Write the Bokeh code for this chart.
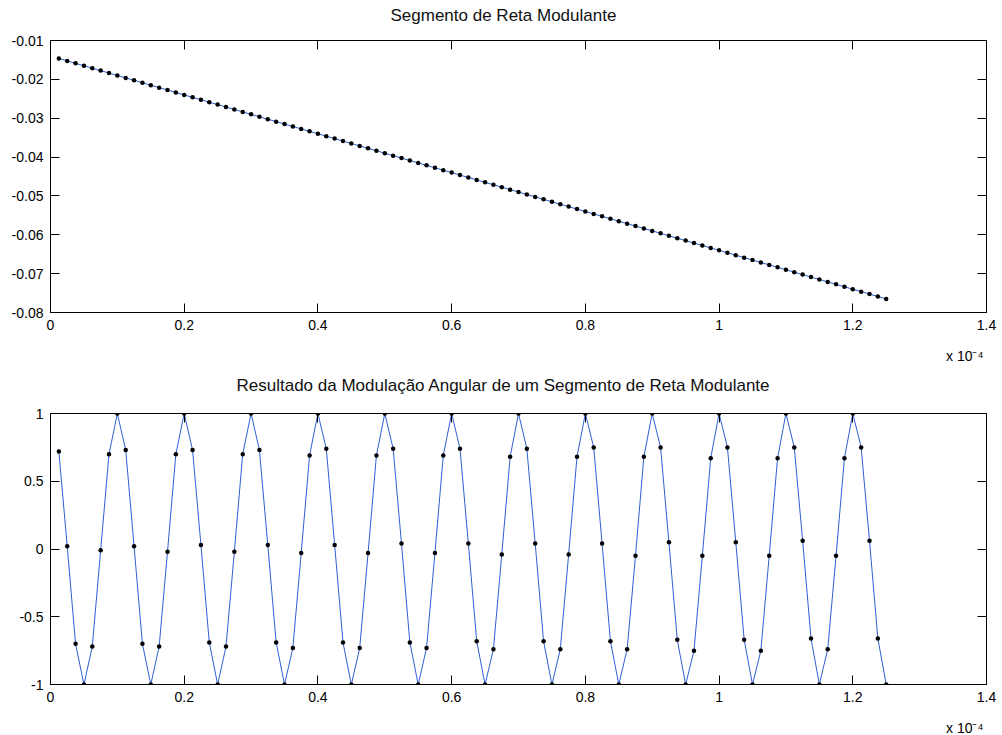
from bokeh.plotting import figure
from bokeh.layouts import column
from bokeh.models import (Range1d, FixedTicker, LinearAxis, CustomJSTickFormatter,
                          Title, CustomLabelingPolicy)
from bokeh.embed import file_html
from bokeh.resources import INLINE

# sample times, in units of 1e-4 s
t_e4 = [
    0.0125, 0.025, 0.0375, 0.05, 0.0625, 0.075, 0.0875, 0.1,
    0.1125, 0.125, 0.1375, 0.15, 0.1625, 0.175, 0.1875, 0.2,
    0.2125, 0.225, 0.2375, 0.25, 0.2625, 0.275, 0.2875, 0.3,
    0.3125, 0.325, 0.3375, 0.35, 0.3625, 0.375, 0.3875, 0.4,
    0.4125, 0.425, 0.4375, 0.45, 0.4625, 0.475, 0.4875, 0.5,
    0.5125, 0.525, 0.5375, 0.55, 0.5625, 0.575, 0.5875, 0.6,
    0.6125, 0.625, 0.6375, 0.65, 0.6625, 0.675, 0.6875, 0.7,
    0.7125, 0.725, 0.7375, 0.75, 0.7625, 0.775, 0.7875, 0.8,
    0.8125, 0.825, 0.8375, 0.85, 0.8625, 0.875, 0.8875, 0.9,
    0.9125, 0.925, 0.9375, 0.95, 0.9625, 0.975, 0.9875, 1.0,
    1.0125, 1.025, 1.0375, 1.05, 1.0625, 1.075, 1.0875, 1.1,
    1.1125, 1.125, 1.1375, 1.15, 1.1625, 1.175, 1.1875, 1.2,
    1.2125, 1.225, 1.2375, 1.25,
]

# modulating straight segment
segmento = [
    -0.01463, -0.01525, -0.01588, -0.0165, -0.01713, -0.01775, -0.01838, -0.019,
    -0.01963, -0.02025, -0.02088, -0.0215, -0.02213, -0.02275, -0.02338, -0.024,
    -0.02463, -0.02525, -0.02588, -0.0265, -0.02713, -0.02775, -0.02838, -0.029,
    -0.02963, -0.03025, -0.03088, -0.0315, -0.03213, -0.03275, -0.03338, -0.034,
    -0.03463, -0.03525, -0.03588, -0.0365, -0.03713, -0.03775, -0.03838, -0.039,
    -0.03963, -0.04025, -0.04088, -0.0415, -0.04213, -0.04275, -0.04338, -0.044,
    -0.04463, -0.04525, -0.04588, -0.0465, -0.04713, -0.04775, -0.04838, -0.049,
    -0.04963, -0.05025, -0.05088, -0.0515, -0.05213, -0.05275, -0.05338, -0.054,
    -0.05463, -0.05525, -0.05588, -0.0565, -0.05713, -0.05775, -0.05838, -0.059,
    -0.05963, -0.06025, -0.06088, -0.0615, -0.06213, -0.06275, -0.06338, -0.064,
    -0.06463, -0.06525, -0.06588, -0.0665, -0.06713, -0.06775, -0.06838, -0.069,
    -0.06963, -0.07025, -0.07088, -0.0715, -0.07213, -0.07275, -0.07338, -0.074,
    -0.07463, -0.07525, -0.07588, -0.0765,
]

# angle-modulated result
modulado = [
    0.72, 0.02, -0.70, -1.00, -0.72, -0.01, 0.70, 1.00,
    0.73, 0.02, -0.70, -1.00, -0.72, -0.02, 0.70, 1.00,
    0.73, 0.03, -0.69, -1.00, -0.72, -0.02, 0.70, 1.00,
    0.73, 0.03, -0.69, -1.00, -0.73, -0.03, 0.69, 1.00,
    0.74, 0.03, -0.69, -1.00, -0.73, -0.03, 0.69, 1.00,
    0.74, 0.04, -0.69, -1.00, -0.73, -0.03, 0.69, 1.00,
    0.74, 0.04, -0.68, -1.00, -0.74, -0.04, 0.68, 1.00,
    0.74, 0.04, -0.68, -1.00, -0.74, -0.04, 0.68, 1.00,
    0.75, 0.04, -0.68, -1.00, -0.74, -0.05, 0.68, 1.00,
    0.75, 0.05, -0.67, -1.00, -0.75, -0.05, 0.67, 1.00,
    0.75, 0.05, -0.67, -1.00, -0.75, -0.05, 0.67, 1.00,
    0.75, 0.06, -0.66, -1.00, -0.74, -0.05, 0.67, 1.00,
    0.75, 0.06, -0.66, -1.00,
]

x_ticks = [0, 0.2, 0.4, 0.6, 0.8, 1.0, 1.2, 1.4]
y1_ticks = [-0.08, -0.07, -0.06, -0.05, -0.04, -0.03, -0.02, -0.01]
y2_ticks = [-1, -0.5, 0, 0.5, 1]

titulo1 = "Segmento de Reta Modulante"
titulo2 = "Resultado da Modulação Angular de um Segmento de Reta Modulante"
escala_x = "x 10\u207b\u2074"

FONT = "Liberation Sans"
LINE = "#2f5fd4"
fmt = CustomJSTickFormatter(code="return String(Math.round(tick*10000)/10000);")
blank_fmt = CustomJSTickFormatter(code="return '';")
no_labels = CustomLabelingPolicy(
    code="for (let i = 0; i < indices.size; i++) { indices.unset(i) }; return indices;")


def set_padding(t, top=0, bottom=0):
    try:
        t.padding = dict(top=top, right=0, bottom=bottom, left=0)
    except Exception:
        try:
            t.padding = (top, 0, bottom, 0)
        except Exception:
            pass


def style_axis(ax, labels=True, blank=False):
    ax.axis_line_color = "black"
    ax.axis_line_width = 1
    ax.major_tick_line_color = "black"
    ax.major_tick_in = 9
    ax.major_tick_out = 0
    ax.minor_tick_line_color = None
    ax.major_label_text_font = FONT
    ax.major_label_text_font_size = "14px"
    ax.major_label_text_color = "black"
    if labels:
        ax.major_label_standoff = 7
        ax.formatter = fmt
    else:
        ax.major_label_standoff = 0
        ax.major_label_policy = no_labels
        if blank:
            ax.formatter = blank_fmt


def make(title, title_off, title_pad, y, yr, yticks, frame_h, btop, bbot):
    p = figure(frame_width=936, frame_height=frame_h,
               x_range=Range1d(0, 1.4), y_range=Range1d(*yr),
               output_backend="svg", toolbar_location=None,
               min_border_left=50, min_border_right=16,
               min_border_top=btop, min_border_bottom=bbot,
               background_fill_color="white", border_fill_color="white")
    p.title.text = title
    p.title.align = "left"
    p.title.offset = title_off
    p.title.text_font = FONT
    p.title.text_font_size = "17px"
    p.title.text_font_style = "normal"
    p.title.text_color = "#111111"
    p.title.standoff = 0
    set_padding(p.title, bottom=title_pad)
    p.xgrid.visible = False
    p.ygrid.visible = False
    p.outline_line_color = "black"

    p.xaxis.ticker = FixedTicker(ticks=x_ticks)
    p.yaxis.ticker = FixedTicker(ticks=yticks)
    for ax in p.xaxis + p.yaxis:
        style_axis(ax)
    top = LinearAxis(ticker=FixedTicker(ticks=x_ticks))
    style_axis(top, labels=False)
    p.add_layout(top, "above")
    right = LinearAxis(ticker=FixedTicker(ticks=yticks))
    style_axis(right, labels=False, blank=True)
    p.add_layout(right, "right")

    # exponent note under the right end of the x axis
    note = Title(text=escala_x, align="right", offset=3,
                 text_font=FONT, text_font_size="14px",
                 text_font_style="normal", text_color="black",
                 vertical_align="top")
    try:
        note.standoff = -6
        set_padding(note, top=18)
    except Exception:
        note.standoff = 0
        set_padding(note, top=12)
    p.add_layout(note, "below")

    p.line(t_e4, y, line_color=LINE, line_width=1)
    p.scatter(t_e4, y, size=4.5, fill_color="black", line_color=None)
    return p


p1 = make(titulo1, 340, 3, segmento, (-0.08, -0.01), y1_ticks, 272, 40, 55)
p2 = make(titulo2, 186, 6, modulado, (-1, 1), y2_ticks, 271, 46, 51)

layout = column(p1, p2, spacing=0)
open("out.html", "w").write(file_html(layout, INLINE))
